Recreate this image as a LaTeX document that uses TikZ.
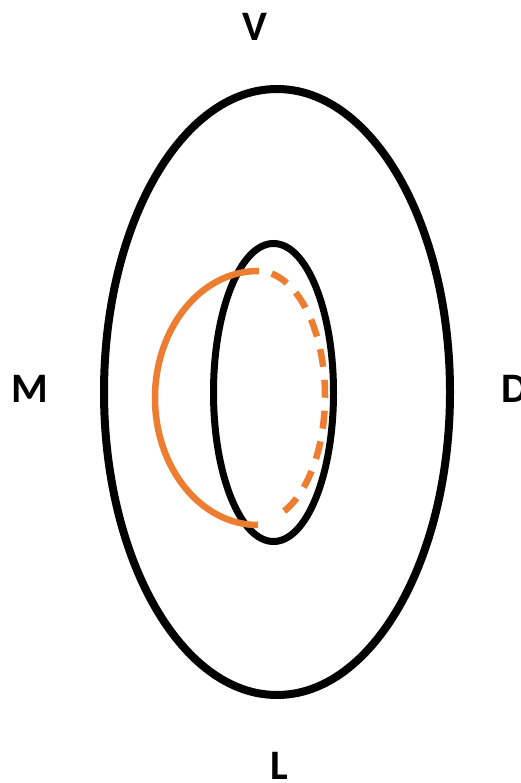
\documentclass[tikz,border=0pt]{standalone}
\usepackage{fontspec}
\setmainfont{Carlito}
\definecolor{lensorange}{RGB}{237,125,49}
\tikzset{
  ring/.style={draw=black, line width=8pt},
  inring/.style={draw=black, line width=7pt},
  arcsolid/.style={draw=lensorange, line width=6.5pt},
  arcdash/.style={draw=lensorange, line width=6.5pt, dash pattern=on 18pt off 13pt, dash phase=-14pt},
  lbl/.style={font=\bfseries\fontsize{42}{42}\selectfont, inner sep=0pt, text=black}
}
\begin{document}
\begin{tikzpicture}[x=1pt,y=-1pt]
\useasboundingbox (0,0) rectangle (521,783);
\fill[white] (0,0) rectangle (521,783);
% outer ellipse
\draw[ring] (277,392) ellipse [x radius=173, y radius=303];
% inner ellipse
\draw[inring] (273.5,392.5) ellipse [x radius=60, y radius=149];
% orange arc, solid left half
\draw[arcsolid] (258,271) arc [start angle=-90, end angle=-270, x radius=103, y radius=127];
% orange arc, dashed right half
\draw[arcdash] (258,271) arc [start angle=-90, end angle=74, x radius=67, y radius=125];
% labels
\node[lbl] (V) at (255,27) {V};
\node[lbl] (M) at (30,389) {M};
\node[lbl, anchor=west] (D) at (501,389) {D};
\node[lbl] (L) at (279.5,766) {L};
\end{tikzpicture}
\end{document}
